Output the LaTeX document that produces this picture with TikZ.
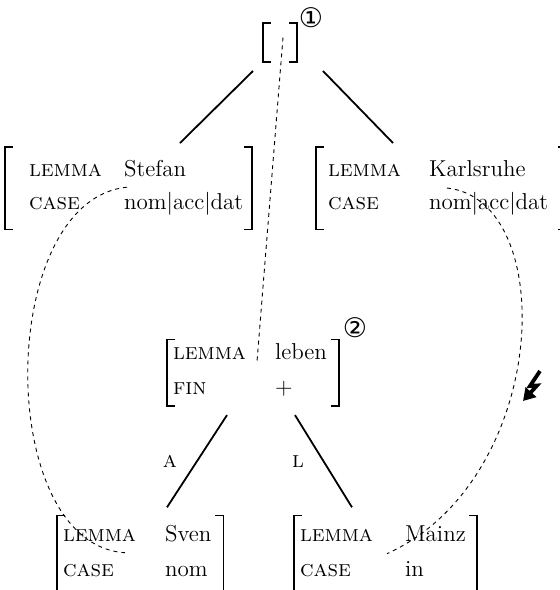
\documentclass[tikz,border=0pt]{standalone}
\usepackage{fontspec}
\newfontfamily\djv{DejaVu Sans}
\usetikzlibrary{arrows.meta}
\newcommand{\lab}[1]{\textsc{#1}}
% #1 left pad, #2 column gap, #3 right pad, #4 extra row gap, #5-#8 texts
\newcommand{\avmtab}[8]{{\def\arraystretch{0.7}\begin{tabular}{@{\hspace{#1}}l@{\hspace{#2}}l@{\hspace{#3}}}\lab{#5}&#6\\[#4]\lab{#7}&#8\end{tabular}}}
\newcommand{\brk}[1]{%
  \draw[avmbracket] ([xshift=4pt]#1.north west) -- (#1.north west) -- (#1.south west) -- ([xshift=4pt]#1.south west);
  \draw[avmbracket] ([xshift=-4pt]#1.north east) -- (#1.north east) -- (#1.south east) -- ([xshift=-4pt]#1.south east);}
\begin{document}
\begin{tikzpicture}[x=0.5pt,y=-0.5pt,
  avm/.style={inner xsep=3pt, outer sep=0pt, anchor=west, font=\fontsize{11.5}{17}\selectfont},
  avmbracket/.style={line width=0.8pt},
  edge/.style={line width=0.9pt},
  coref/.style={line width=0.45pt, dash pattern=on 2pt off 2pt},
  circ/.style={font=\djv\fontsize{13.5}{13.5}\selectfont, inner sep=0pt},
  arclabel/.style={font=\fontsize{11.5}{12}\selectfont\scshape, inner sep=0pt}]
\useasboundingbox (0,0) rectangle (559,590);

% nodes
\node[minimum width=17pt, minimum height=19.5pt, inner sep=0pt, outer sep=0pt] (top) at (280,42.5) {};
\node[circ] (c1) at (311,18) {①};
\node[avm, inner ysep=6.5pt] (stefan) at (5,188.2) {\avmtab{9pt}{11pt}{1.5pt}{4.1pt}{lemma}{Stefan}{case}{nom|acc|dat}};
\node[avm, inner ysep=6.5pt] (karls) at (316,188.2) {\avmtab{3pt}{14pt}{6pt}{4.1pt}{lemma}{Karlsruhe}{case}{nom|acc|dat}};
\node[avm, inner ysep=2pt] (leben) at (167,372.7) {\avmtab{0pt}{14.5pt}{3pt}{5.6pt}{lemma}{leben}{fin}{+}};
\node[circ] (c2) at (355,328) {②};
\node[avm, inner ysep=5pt] (sven) at (57,554.7) {\avmtab{0pt}{14.5pt}{3pt}{5.6pt}{lemma}{Sven}{case}{nom}};
\node[avm, inner ysep=5pt] (mainz) at (294,554.7) {\avmtab{0pt}{16pt}{2.5pt}{5.6pt}{lemma}{Mainz}{case}{in}};

% brackets
\brk{top}
\brk{stefan}
\brk{karls}
\brk{leben}
\brk{sven}
\brk{mainz}

% tree edges
\draw[edge] ([shift={(-10,9)}]top.south west) -- ([shift={(175,-4)}]stefan.north west);
\draw[edge] ([shift={(26,9)}]top.south east) -- ([shift={(77,-4)}]karls.north west);
\draw[edge] ([shift={(60,9)}]leben.south west) -- node[arclabel, pos=0.5, xshift=-13.5pt] (la) {a} ([shift={(110,-8)}]sven.north west);
\draw[edge] ([shift={(128,9)}]leben.south west) -- node[arclabel, pos=0.5, xshift=-12.75pt] (ll) {l} ([shift={(58,-8)}]mainz.north west);

% coreference lines
\draw[coref] ([shift={(3,-5)}]top.center) -- ([shift={(90,-11)}]leben.west);
\draw[coref] ([shift={(122,-1)}]stefan.west) .. controls +(-131,13) and +(-131,-8) .. ([shift={(68,-2)}]sven.west);
\draw[coref] ([shift={(131,41)}]karls.north west) .. controls +(113,12) and +(163,-74) .. ([shift={(93,-1)}]mainz.west);

% clash mark
\draw[line width=1.9pt, line join=miter, -{Triangle[length=6pt,width=7pt]}] (540,371) -- (530,386) -- (537,385.5) -- (523,401);
\end{tikzpicture}
\end{document}
